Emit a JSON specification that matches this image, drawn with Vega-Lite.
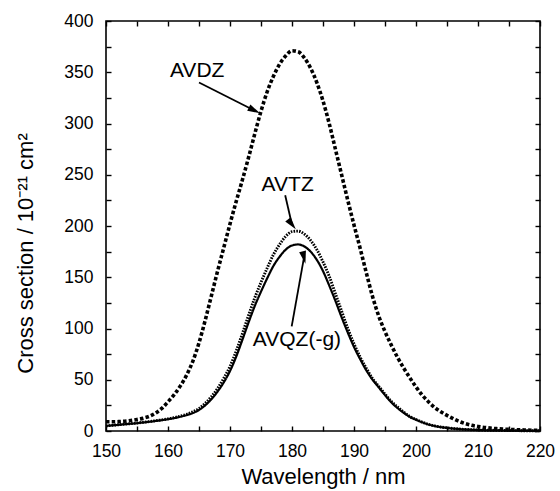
{
  "$schema": "https://vega.github.io/schema/vega-lite/v6.json",
  "width": 434,
  "height": 410,
  "autosize": "none",
  "padding": {"left": 106, "top": 21, "right": 20, "bottom": 60},
  "background": "white",
  "config": {
    "view": {"stroke": "black", "strokeWidth": 1.6},
    "font": "Liberation Sans",
    "axis": {
      "grid": false,
      "domain": false,
      "tickColor": "black",
      "tickWidth": 1.4,
      "tickSize": -5,
      "labelColor": "black",
      "titleColor": "black",
      "labelFont": "Liberation Sans",
      "titleFont": "Liberation Sans",
      "labelFontSize": 17.5,
      "titleFontSize": 22,
      "titleFontWeight": "normal",
      "labelFlush": false,
      "labelOverlap": false
    }
  },
  "datasets": {
    "curves": [
      {"wavelength": 150, "series": "AVDZ", "cs": 9},
      {"wavelength": 151, "series": "AVDZ", "cs": 9},
      {"wavelength": 152, "series": "AVDZ", "cs": 9.1},
      {"wavelength": 153, "series": "AVDZ", "cs": 9.5},
      {"wavelength": 154, "series": "AVDZ", "cs": 10.2},
      {"wavelength": 155, "series": "AVDZ", "cs": 11.2},
      {"wavelength": 156, "series": "AVDZ", "cs": 12.5},
      {"wavelength": 157, "series": "AVDZ", "cs": 14.3},
      {"wavelength": 158, "series": "AVDZ", "cs": 17.5},
      {"wavelength": 159, "series": "AVDZ", "cs": 22},
      {"wavelength": 160, "series": "AVDZ", "cs": 28.5},
      {"wavelength": 161, "series": "AVDZ", "cs": 35.5},
      {"wavelength": 162, "series": "AVDZ", "cs": 44},
      {"wavelength": 163, "series": "AVDZ", "cs": 54.5},
      {"wavelength": 164, "series": "AVDZ", "cs": 68},
      {"wavelength": 165, "series": "AVDZ", "cs": 86},
      {"wavelength": 166, "series": "AVDZ", "cs": 108},
      {"wavelength": 167, "series": "AVDZ", "cs": 132},
      {"wavelength": 168, "series": "AVDZ", "cs": 156},
      {"wavelength": 169, "series": "AVDZ", "cs": 179},
      {"wavelength": 170, "series": "AVDZ", "cs": 202},
      {"wavelength": 171, "series": "AVDZ", "cs": 224},
      {"wavelength": 172, "series": "AVDZ", "cs": 245},
      {"wavelength": 173, "series": "AVDZ", "cs": 267},
      {"wavelength": 174, "series": "AVDZ", "cs": 290},
      {"wavelength": 175, "series": "AVDZ", "cs": 312},
      {"wavelength": 176, "series": "AVDZ", "cs": 331},
      {"wavelength": 177, "series": "AVDZ", "cs": 346},
      {"wavelength": 178, "series": "AVDZ", "cs": 358},
      {"wavelength": 179, "series": "AVDZ", "cs": 366},
      {"wavelength": 180, "series": "AVDZ", "cs": 371},
      {"wavelength": 181, "series": "AVDZ", "cs": 370},
      {"wavelength": 182, "series": "AVDZ", "cs": 364},
      {"wavelength": 183, "series": "AVDZ", "cs": 354},
      {"wavelength": 184, "series": "AVDZ", "cs": 340},
      {"wavelength": 185, "series": "AVDZ", "cs": 322},
      {"wavelength": 186, "series": "AVDZ", "cs": 300},
      {"wavelength": 187, "series": "AVDZ", "cs": 275},
      {"wavelength": 188, "series": "AVDZ", "cs": 250},
      {"wavelength": 189, "series": "AVDZ", "cs": 225},
      {"wavelength": 190, "series": "AVDZ", "cs": 201},
      {"wavelength": 191, "series": "AVDZ", "cs": 178},
      {"wavelength": 192, "series": "AVDZ", "cs": 154},
      {"wavelength": 193, "series": "AVDZ", "cs": 131},
      {"wavelength": 194, "series": "AVDZ", "cs": 112},
      {"wavelength": 195, "series": "AVDZ", "cs": 97},
      {"wavelength": 196, "series": "AVDZ", "cs": 84},
      {"wavelength": 197, "series": "AVDZ", "cs": 72},
      {"wavelength": 198, "series": "AVDZ", "cs": 61.5},
      {"wavelength": 199, "series": "AVDZ", "cs": 52},
      {"wavelength": 200, "series": "AVDZ", "cs": 43},
      {"wavelength": 201, "series": "AVDZ", "cs": 35},
      {"wavelength": 202, "series": "AVDZ", "cs": 28.5},
      {"wavelength": 203, "series": "AVDZ", "cs": 23},
      {"wavelength": 204, "series": "AVDZ", "cs": 18.8},
      {"wavelength": 205, "series": "AVDZ", "cs": 15.2},
      {"wavelength": 206, "series": "AVDZ", "cs": 12},
      {"wavelength": 207, "series": "AVDZ", "cs": 9.2},
      {"wavelength": 208, "series": "AVDZ", "cs": 7.1},
      {"wavelength": 209, "series": "AVDZ", "cs": 5.5},
      {"wavelength": 210, "series": "AVDZ", "cs": 4.4},
      {"wavelength": 211, "series": "AVDZ", "cs": 3.5},
      {"wavelength": 212, "series": "AVDZ", "cs": 2.8},
      {"wavelength": 213, "series": "AVDZ", "cs": 2.3},
      {"wavelength": 214, "series": "AVDZ", "cs": 1.9},
      {"wavelength": 215, "series": "AVDZ", "cs": 1.6},
      {"wavelength": 216, "series": "AVDZ", "cs": 1.3},
      {"wavelength": 217, "series": "AVDZ", "cs": 1.1},
      {"wavelength": 218, "series": "AVDZ", "cs": 0.9},
      {"wavelength": 219, "series": "AVDZ", "cs": 0.7},
      {"wavelength": 220, "series": "AVDZ", "cs": 0.6},

      {"wavelength": 150, "series": "AVTZ", "cs": 4.9},
      {"wavelength": 151, "series": "AVTZ", "cs": 5.5},
      {"wavelength": 152, "series": "AVTZ", "cs": 6.1},
      {"wavelength": 153, "series": "AVTZ", "cs": 6.7},
      {"wavelength": 154, "series": "AVTZ", "cs": 7.2},
      {"wavelength": 155, "series": "AVTZ", "cs": 7.8},
      {"wavelength": 156, "series": "AVTZ", "cs": 8.5},
      {"wavelength": 157, "series": "AVTZ", "cs": 9.2},
      {"wavelength": 158, "series": "AVTZ", "cs": 10},
      {"wavelength": 159, "series": "AVTZ", "cs": 10.9},
      {"wavelength": 160, "series": "AVTZ", "cs": 11.8},
      {"wavelength": 161, "series": "AVTZ", "cs": 13},
      {"wavelength": 162, "series": "AVTZ", "cs": 14.5},
      {"wavelength": 163, "series": "AVTZ", "cs": 16.3},
      {"wavelength": 164, "series": "AVTZ", "cs": 18.7},
      {"wavelength": 165, "series": "AVTZ", "cs": 22},
      {"wavelength": 166, "series": "AVTZ", "cs": 27},
      {"wavelength": 167, "series": "AVTZ", "cs": 33.5},
      {"wavelength": 168, "series": "AVTZ", "cs": 41.5},
      {"wavelength": 169, "series": "AVTZ", "cs": 51.5},
      {"wavelength": 170, "series": "AVTZ", "cs": 63},
      {"wavelength": 171, "series": "AVTZ", "cs": 78},
      {"wavelength": 172, "series": "AVTZ", "cs": 95},
      {"wavelength": 173, "series": "AVTZ", "cs": 113},
      {"wavelength": 174, "series": "AVTZ", "cs": 130},
      {"wavelength": 175, "series": "AVTZ", "cs": 145},
      {"wavelength": 176, "series": "AVTZ", "cs": 159},
      {"wavelength": 177, "series": "AVTZ", "cs": 172},
      {"wavelength": 178, "series": "AVTZ", "cs": 182},
      {"wavelength": 179, "series": "AVTZ", "cs": 190},
      {"wavelength": 180, "series": "AVTZ", "cs": 194.5},
      {"wavelength": 181, "series": "AVTZ", "cs": 195},
      {"wavelength": 182, "series": "AVTZ", "cs": 192},
      {"wavelength": 183, "series": "AVTZ", "cs": 186},
      {"wavelength": 184, "series": "AVTZ", "cs": 177},
      {"wavelength": 185, "series": "AVTZ", "cs": 165},
      {"wavelength": 186, "series": "AVTZ", "cs": 151},
      {"wavelength": 187, "series": "AVTZ", "cs": 134},
      {"wavelength": 188, "series": "AVTZ", "cs": 117},
      {"wavelength": 189, "series": "AVTZ", "cs": 100},
      {"wavelength": 190, "series": "AVTZ", "cs": 85},
      {"wavelength": 191, "series": "AVTZ", "cs": 72},
      {"wavelength": 192, "series": "AVTZ", "cs": 61},
      {"wavelength": 193, "series": "AVTZ", "cs": 51},
      {"wavelength": 194, "series": "AVTZ", "cs": 43.5},
      {"wavelength": 195, "series": "AVTZ", "cs": 36},
      {"wavelength": 196, "series": "AVTZ", "cs": 29},
      {"wavelength": 197, "series": "AVTZ", "cs": 23.5},
      {"wavelength": 198, "series": "AVTZ", "cs": 18.5},
      {"wavelength": 199, "series": "AVTZ", "cs": 14.2},
      {"wavelength": 200, "series": "AVTZ", "cs": 11.2},
      {"wavelength": 201, "series": "AVTZ", "cs": 8.7},
      {"wavelength": 202, "series": "AVTZ", "cs": 6.5},
      {"wavelength": 203, "series": "AVTZ", "cs": 5},
      {"wavelength": 204, "series": "AVTZ", "cs": 3.9},
      {"wavelength": 205, "series": "AVTZ", "cs": 3.1},
      {"wavelength": 206, "series": "AVTZ", "cs": 2.4},
      {"wavelength": 207, "series": "AVTZ", "cs": 1.9},
      {"wavelength": 208, "series": "AVTZ", "cs": 1.5},
      {"wavelength": 209, "series": "AVTZ", "cs": 1.2},
      {"wavelength": 210, "series": "AVTZ", "cs": 1},
      {"wavelength": 211, "series": "AVTZ", "cs": 0.8},
      {"wavelength": 212, "series": "AVTZ", "cs": 0.7},
      {"wavelength": 213, "series": "AVTZ", "cs": 0.6},
      {"wavelength": 214, "series": "AVTZ", "cs": 0.5},
      {"wavelength": 215, "series": "AVTZ", "cs": 0.4},
      {"wavelength": 216, "series": "AVTZ", "cs": 0.35},
      {"wavelength": 217, "series": "AVTZ", "cs": 0.3},
      {"wavelength": 218, "series": "AVTZ", "cs": 0.25},
      {"wavelength": 219, "series": "AVTZ", "cs": 0.2},
      {"wavelength": 220, "series": "AVTZ", "cs": 0.2},

      {"wavelength": 150, "series": "AVQZ(-g)", "cs": 4.9},
      {"wavelength": 151, "series": "AVQZ(-g)", "cs": 5.5},
      {"wavelength": 152, "series": "AVQZ(-g)", "cs": 6},
      {"wavelength": 153, "series": "AVQZ(-g)", "cs": 6.6},
      {"wavelength": 154, "series": "AVQZ(-g)", "cs": 7.1},
      {"wavelength": 155, "series": "AVQZ(-g)", "cs": 7.6},
      {"wavelength": 156, "series": "AVQZ(-g)", "cs": 8.3},
      {"wavelength": 157, "series": "AVQZ(-g)", "cs": 9},
      {"wavelength": 158, "series": "AVQZ(-g)", "cs": 9.8},
      {"wavelength": 159, "series": "AVQZ(-g)", "cs": 10.6},
      {"wavelength": 160, "series": "AVQZ(-g)", "cs": 11.5},
      {"wavelength": 161, "series": "AVQZ(-g)", "cs": 12.6},
      {"wavelength": 162, "series": "AVQZ(-g)", "cs": 13.9},
      {"wavelength": 163, "series": "AVQZ(-g)", "cs": 15.5},
      {"wavelength": 164, "series": "AVQZ(-g)", "cs": 17.5},
      {"wavelength": 165, "series": "AVQZ(-g)", "cs": 20.5},
      {"wavelength": 166, "series": "AVQZ(-g)", "cs": 25},
      {"wavelength": 167, "series": "AVQZ(-g)", "cs": 31},
      {"wavelength": 168, "series": "AVQZ(-g)", "cs": 38.5},
      {"wavelength": 169, "series": "AVQZ(-g)", "cs": 47.5},
      {"wavelength": 170, "series": "AVQZ(-g)", "cs": 58.5},
      {"wavelength": 171, "series": "AVQZ(-g)", "cs": 72.5},
      {"wavelength": 172, "series": "AVQZ(-g)", "cs": 89},
      {"wavelength": 173, "series": "AVQZ(-g)", "cs": 106},
      {"wavelength": 174, "series": "AVQZ(-g)", "cs": 122},
      {"wavelength": 175, "series": "AVQZ(-g)", "cs": 136},
      {"wavelength": 176, "series": "AVQZ(-g)", "cs": 149},
      {"wavelength": 177, "series": "AVQZ(-g)", "cs": 161},
      {"wavelength": 178, "series": "AVQZ(-g)", "cs": 170},
      {"wavelength": 179, "series": "AVQZ(-g)", "cs": 177},
      {"wavelength": 180, "series": "AVQZ(-g)", "cs": 181},
      {"wavelength": 181, "series": "AVQZ(-g)", "cs": 182},
      {"wavelength": 182, "series": "AVQZ(-g)", "cs": 180},
      {"wavelength": 183, "series": "AVQZ(-g)", "cs": 175},
      {"wavelength": 184, "series": "AVQZ(-g)", "cs": 167},
      {"wavelength": 185, "series": "AVQZ(-g)", "cs": 156},
      {"wavelength": 186, "series": "AVQZ(-g)", "cs": 142},
      {"wavelength": 187, "series": "AVQZ(-g)", "cs": 127},
      {"wavelength": 188, "series": "AVQZ(-g)", "cs": 111},
      {"wavelength": 189, "series": "AVQZ(-g)", "cs": 96},
      {"wavelength": 190, "series": "AVQZ(-g)", "cs": 82},
      {"wavelength": 191, "series": "AVQZ(-g)", "cs": 70},
      {"wavelength": 192, "series": "AVQZ(-g)", "cs": 59},
      {"wavelength": 193, "series": "AVQZ(-g)", "cs": 50},
      {"wavelength": 194, "series": "AVQZ(-g)", "cs": 42.5},
      {"wavelength": 195, "series": "AVQZ(-g)", "cs": 35},
      {"wavelength": 196, "series": "AVQZ(-g)", "cs": 28},
      {"wavelength": 197, "series": "AVQZ(-g)", "cs": 22.5},
      {"wavelength": 198, "series": "AVQZ(-g)", "cs": 17.8},
      {"wavelength": 199, "series": "AVQZ(-g)", "cs": 13.8},
      {"wavelength": 200, "series": "AVQZ(-g)", "cs": 11},
      {"wavelength": 201, "series": "AVQZ(-g)", "cs": 8.5},
      {"wavelength": 202, "series": "AVQZ(-g)", "cs": 6.4},
      {"wavelength": 203, "series": "AVQZ(-g)", "cs": 4.9},
      {"wavelength": 204, "series": "AVQZ(-g)", "cs": 3.8},
      {"wavelength": 205, "series": "AVQZ(-g)", "cs": 3},
      {"wavelength": 206, "series": "AVQZ(-g)", "cs": 2.4},
      {"wavelength": 207, "series": "AVQZ(-g)", "cs": 1.9},
      {"wavelength": 208, "series": "AVQZ(-g)", "cs": 1.5},
      {"wavelength": 209, "series": "AVQZ(-g)", "cs": 1.2},
      {"wavelength": 210, "series": "AVQZ(-g)", "cs": 1},
      {"wavelength": 211, "series": "AVQZ(-g)", "cs": 0.8},
      {"wavelength": 212, "series": "AVQZ(-g)", "cs": 0.7},
      {"wavelength": 213, "series": "AVQZ(-g)", "cs": 0.6},
      {"wavelength": 214, "series": "AVQZ(-g)", "cs": 0.5},
      {"wavelength": 215, "series": "AVQZ(-g)", "cs": 0.4},
      {"wavelength": 216, "series": "AVQZ(-g)", "cs": 0.35},
      {"wavelength": 217, "series": "AVQZ(-g)", "cs": 0.3},
      {"wavelength": 218, "series": "AVQZ(-g)", "cs": 0.25},
      {"wavelength": 219, "series": "AVQZ(-g)", "cs": 0.2},
      {"wavelength": 220, "series": "AVQZ(-g)", "cs": 0.2}
    ],
    "notes": [
      {"label": "AVDZ", "tx": 164.7, "ty": 351, "x1": 165.0, "y1": 340, "x2": 173.94, "y2": 312.7},
      {"label": "AVTZ", "tx": 179.3, "ty": 240, "x1": 178.9, "y1": 230, "x2": 179.98, "y2": 201.7},
      {"label": "AVQZ(-g)", "tx": 180.8, "ty": 89, "x1": 179.95, "y1": 102, "x2": 181.93, "y2": 169.2}
    ]
  },
  "resolve": {"axis": {"x": "independent", "y": "independent"}},
  "layer": [
    {
      "data": {"name": "curves"},
      "mark": {"type": "line", "interpolate": "monotone", "color": "black", "strokeCap": "butt"},
      "encoding": {
        "x": {"field": "wavelength", "type": "quantitative",
              "scale": {"domain": [150, 220], "nice": false, "zero": false},
              "axis": {"orient": "bottom", "title": "Wavelength / nm",
                       "values": [150,155,160,165,170,175,180,185,190,195,200,205,210,215,220],
                       "labelExpr": "datum.value % 10 === 0 ? datum.label : ''",
                       "labelPadding": 16, "titlePadding": 7}},
        "y": {"field": "cs", "type": "quantitative",
              "scale": {"domain": [0, 400], "nice": false},
              "axis": {"orient": "left", "title": "Cross section / 10⁻²¹ cm²",
                       "values": [0,25,50,75,100,125,150,175,200,225,250,275,300,325,350,375,400],
                       "labelExpr": "datum.value % 50 === 0 ? datum.label : ''",
                       "labelPadding": 18, "titlePadding": 26, "titleY": 232}},
        "detail": {"field": "series"},
        "order": {"field": "wavelength"},
        "strokeDash": {"field": "series", "type": "nominal", "legend": null,
                       "scale": {"domain": ["AVDZ", "AVTZ", "AVQZ(-g)"], "range": [[3.5, 2.2], [1.6, 1.2], [1, 0]]}},
        "strokeWidth": {"field": "series", "type": "nominal", "legend": null,
                        "scale": {"domain": ["AVDZ", "AVTZ", "AVQZ(-g)"], "range": [3.6, 2.2, 3.8]}}
      }
    },
    {
      "data": {"name": "notes"},
      "mark": {"type": "rule", "color": "black", "strokeWidth": 1.8},
      "encoding": {
        "x": {"field": "x1", "type": "quantitative", "axis": null},
        "y": {"field": "y1", "type": "quantitative", "axis": null},
        "x2": {"field": "x2"},
        "y2": {"field": "y2"}
      }
    },
    {
      "data": {"name": "notes"},
      "mark": {"type": "point", "shape": "M0,-1L0.55,1L-0.55,1Z", "filled": true, "color": "black", "size": 160, "opacity": 1},
      "encoding": {
        "x": {"field": "x2", "type": "quantitative", "axis": null},
        "y": {"field": "y2", "type": "quantitative", "axis": null},
        "angle": {"field": "label", "type": "nominal", "legend": null,
                  "scale": {"domain": ["AVDZ", "AVTZ", "AVQZ(-g)"], "range": [117, 167, 10]}}
      }
    },
    {
      "data": {"name": "notes"},
      "mark": {"type": "text", "font": "Liberation Sans", "fontSize": 21, "color": "black", "align": "center", "baseline": "middle"},
      "encoding": {
        "x": {"field": "tx", "type": "quantitative", "axis": null},
        "y": {"field": "ty", "type": "quantitative", "axis": null},
        "text": {"field": "label"}
      }
    },
    {
      "data": {"name": "curves"},
      "mark": {"type": "point", "opacity": 0},
      "encoding": {
        "x": {"field": "wavelength", "type": "quantitative",
              "axis": {"orient": "top", "title": null, "labels": false,
                       "values": [150,155,160,165,170,175,180,185,190,195,200,205,210,215,220]}},
        "y": {"field": "cs", "type": "quantitative",
              "axis": {"orient": "right", "title": null, "labels": false,
                       "values": [0,25,50,75,100,125,150,175,200,225,250,275,300,325,350,375,400]}}
      }
    }
  ]
}
